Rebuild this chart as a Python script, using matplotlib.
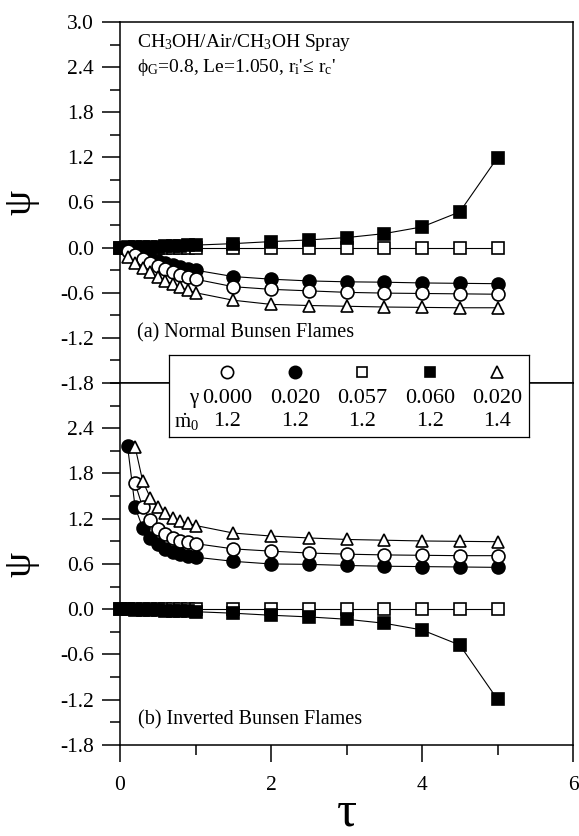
# plot.py
# Flame-tip sensitivity psi vs. tau for normal and inverted Bunsen flames.

import matplotlib
matplotlib.use('Agg')
import matplotlib.pyplot as plt
from matplotlib.ticker import MultipleLocator

plt.rcParams['font.family'] = ['Liberation Serif', 'DejaVu Serif']
plt.rcParams['mathtext.fontset'] = 'custom'
plt.rcParams['mathtext.rm'] = 'Liberation Serif'
plt.rcParams['mathtext.it'] = 'Liberation Serif:italic'
plt.rcParams['axes.unicode_minus'] = False

output_file = 'out.png'

# --- data ---
tau_sq = [0.0, 0.1, 0.2, 0.3, 0.4, 0.5, 0.6, 0.7, 0.8, 0.9, 1.0,
          1.5, 2.0, 2.5, 3.0, 3.5, 4.0, 4.5, 5.0]
tau_a = [0.1, 0.2, 0.3, 0.4, 0.5, 0.6, 0.7, 0.8, 0.9, 1.0,
         1.5, 2.0, 2.5, 3.0, 3.5, 4.0, 4.5, 5.0]
tau_b = [0.2, 0.3, 0.4, 0.5, 0.6, 0.7, 0.8, 0.9, 1.0,
         1.5, 2.0, 2.5, 3.0, 3.5, 4.0, 4.5, 5.0]

# (a) normal Bunsen flames
normal_open_circ = [-0.05, -0.10, -0.15, -0.20, -0.25, -0.29, -0.33, -0.36, -0.39, -0.42,
                    -0.52, -0.555, -0.575, -0.595, -0.605, -0.61, -0.615, -0.62]
normal_fill_circ = [-0.03, -0.07, -0.11, -0.15, -0.18, -0.21, -0.235, -0.26, -0.28, -0.30,
                    -0.385, -0.42, -0.443, -0.455, -0.46, -0.47, -0.475, -0.48]
normal_open_sq = [0.0] * len(tau_sq)
normal_fill_sq = [0.0, 0.002, 0.005, 0.008, 0.011, 0.014, 0.018, 0.021, 0.025, 0.029, 0.033,
                  0.053, 0.08, 0.102, 0.133, 0.186, 0.275, 0.475, 1.197]
normal_tri = [-0.12, -0.20, -0.27, -0.33, -0.39, -0.44, -0.49, -0.53, -0.57, -0.60,
              -0.70, -0.755, -0.77, -0.78, -0.79, -0.795, -0.80, -0.80]

# (b) inverted Bunsen flames
inv_open_circ = [1.67, 1.35, 1.18, 1.06, 1.00, 0.95, 0.91, 0.89, 0.87,
                 0.80, 0.77, 0.745, 0.73, 0.72, 0.715, 0.71, 0.71]
inv_fill_circ = [2.16, 1.35, 1.08, 0.95, 0.86, 0.80, 0.76, 0.73, 0.71, 0.69,
                 0.635, 0.60, 0.595, 0.58, 0.57, 0.565, 0.56, 0.555]
inv_open_sq = [0.0] * len(tau_sq)
inv_fill_sq = [-v for v in normal_fill_sq]
inv_tri = [2.15, 1.70, 1.48, 1.35, 1.27, 1.21, 1.17, 1.14, 1.11,
           1.01, 0.97, 0.945, 0.925, 0.915, 0.905, 0.90, 0.895]

gamma_labels = ['0.000', '0.020', '0.057', '0.060', '0.020']
mdot_labels = ['1.2', '1.2', '1.2', '1.2', '1.4']

# marker style per case: (marker, filled)
styles = [('o', False), ('o', True), ('s', False), ('s', True), ('^', False)]
msizes = {'o': 9.3, 's': 8.3, '^': 9.3}


def draw(ax, x, y, idx):
    m, filled = styles[idx]
    ax.plot(x, y, color='black', lw=0.8, marker=m, ms=msizes[m],
            mfc='black' if filled else 'white', mec='black', mew=1.2,
            clip_on=False, zorder=3)


fig = plt.figure(figsize=(5.79, 8.36), dpi=100)
left, width = 0.2073, 0.7824
ax_a = fig.add_axes([left, 0.5419, width, 0.4318])
ax_b = fig.add_axes([left, 0.1089, width, 0.4330], sharex=ax_a)

draw(ax_a, tau_sq, normal_open_sq, 2)
draw(ax_a, tau_sq, normal_fill_sq, 3)
draw(ax_a, tau_a, normal_fill_circ, 1)
draw(ax_a, tau_a, normal_open_circ, 0)
draw(ax_a, tau_a, normal_tri, 4)

draw(ax_b, tau_sq, inv_open_sq, 2)
draw(ax_b, tau_sq, inv_fill_sq, 3)
draw(ax_b, tau_a, inv_fill_circ, 1)
draw(ax_b, tau_b, inv_open_circ, 0)
draw(ax_b, tau_b, inv_tri, 4)

for ax in (ax_a, ax_b):
    ax.set_xlim(0, 6)
    ax.set_ylim(-1.8, 3.0)
    ax.yaxis.set_major_locator(MultipleLocator(0.6))
    ax.yaxis.set_minor_locator(MultipleLocator(0.3))
    ax.yaxis.set_major_formatter(matplotlib.ticker.FormatStrFormatter('%.1f'))
    for s in ax.spines.values():
        s.set_linewidth(1.1)
    ax.tick_params(axis='y', which='major', direction='out', length=13, width=1.1,
                   labelsize=15.5, pad=6)
    ax.tick_params(axis='y', which='minor', direction='out', length=7, width=1.1)
    ax.set_ylabel('ψ', fontsize=29, rotation=90)
    ax.yaxis.set_label_coords(-0.178, 0.5)

ax_a.set_yticks([-1.8, -1.2, -0.6, 0.0, 0.6, 1.2, 1.8, 2.4, 3.0])
ax_b.set_yticks([-1.8, -1.2, -0.6, 0.0, 0.6, 1.2, 1.8, 2.4])
ax_a.tick_params(axis='x', which='both', bottom=False, labelbottom=False)

ax_b.xaxis.set_major_locator(MultipleLocator(2))
ax_b.xaxis.set_minor_locator(MultipleLocator(1))
ax_b.tick_params(axis='x', which='major', direction='out', length=12, width=1.1,
                 labelsize=15.5, pad=10)
ax_b.tick_params(axis='x', which='minor', direction='out', length=7, width=1.1)
ax_b.set_xlabel('τ', fontsize=36)
ax_b.xaxis.set_label_coords(0.5, -0.125)

# annotations
ax_a.text(0.037, 0.942, 'CH$_3$OH/Air/CH$_3$OH Spray', transform=ax_a.transAxes,
          fontsize=14, ha='left', va='center')
ax_a.text(0.037, 0.875, "ϕ$_\\mathrm{G}$=0.8, Le=1.050, r$_\\mathrm{i}$'≤ r$_\\mathrm{c}$'",
          transform=ax_a.transAxes, fontsize=14, ha='left', va='center')
ax_a.text(0.037, 0.138, '(a) Normal Bunsen Flames', transform=ax_a.transAxes,
          fontsize=14.5, ha='left', va='center')
ax_b.text(0.04, 0.069, '(b) Inverted Bunsen Flames', transform=ax_b.transAxes,
          fontsize=14.5, ha='left', va='center')

# legend box straddling the two panels (pixel-like coordinates inside)
W, H = 579, 836
box_x0, box_y0, box_w, box_h = 169.3, 355.0, 359.7, 82.3
lg = fig.add_axes([box_x0 / W, 1 - (box_y0 + box_h) / H, box_w / W, box_h / H])
lg.set_xlim(0, box_w)
lg.set_ylim(box_h, 0)
lg.set_xticks([])
lg.set_yticks([])
for s in lg.spines.values():
    s.set_linewidth(0.9)

col0, dcol = 58.0, 67.5
for i, (m, filled) in enumerate(styles):
    cx = col0 + i * dcol
    lg.plot([cx], [16.7], linestyle='none', marker=m, ms=msizes[m] * 0.95,
            mfc='black' if filled else 'white', mec='black', mew=1.2)
    lg.text(cx, 43.3, gamma_labels[i], fontsize=16, ha='center', va='center')
    lg.text(cx, 66.7, mdot_labels[i], fontsize=16, ha='center', va='center')
lg.text(24.0, 43.3, 'γ', fontsize=15, ha='center', va='center')
lg.text(17.4, 66.7, r'$\dot{\mathrm{m}}_{0}$', fontsize=15, ha='center', va='center')

fig.savefig(output_file, dpi=100)
print(f"--> Figure saved to: {output_file}")
